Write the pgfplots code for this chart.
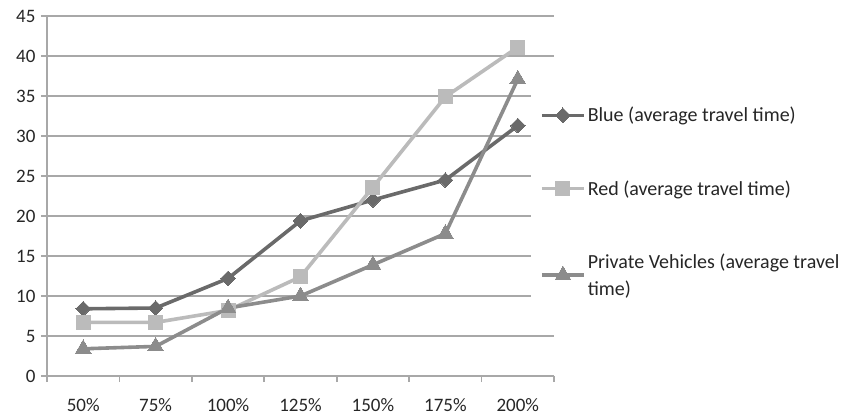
\documentclass[border=0pt]{standalone}
\usepackage{pgfplots}
\pgfplotsset{compat=1.18}
\usepackage{fontspec}
\setmainfont{Carlito}
\definecolor{cblue}{HTML}{6A6A6A}
\definecolor{cred}{HTML}{BBBBBB}
\definecolor{cpriv}{HTML}{8C8C8C}
\definecolor{cgrid}{HTML}{A8A8A8}
\definecolor{ctext}{HTML}{262626}
\begin{document}
\begin{tikzpicture}
\useasboundingbox (-47pt,-42pt) rectangle (800pt,376pt);
\begin{axis}[
  at={(0,0)}, anchor=south west,
  scale only axis, width=507pt, height=360pt,
  xmin=-0.5, xmax=6.5, ymin=0, ymax=45,
  xtick={0,...,6},
  xticklabels={50\%,75\%,100\%,125\%,150\%,175\%,200\%},
  minor xtick={-0.5,0.5,...,6.5},
  ytick={0,5,...,45},
  ymajorgrids,
  grid style={cgrid, line width=1.6pt},
  axis x line*=bottom, axis y line*=left,
  axis line style={cgrid, line width=1.6pt, -},
  tick align=outside,
  x tick style={draw=none},
  minor x tick style={draw=cgrid, line width=1.6pt},
  minor tick length=6pt,
  y tick style={cgrid, line width=1.6pt},
  major tick length=6pt,
  tick label style={font=\fontsize{19}{22}\selectfont, text=ctext},
  /pgf/number format/assume math mode=true,
  xticklabel style={yshift=-13pt},
  yticklabel style={xshift=-2pt},
  legend style={at={(axis description cs:0.9546,0.822)}, anchor=north west,
    draw=none, fill=white, inner xsep=9pt, inner ysep=25pt,
    font=\fontsize{20}{27}\selectfont, text=ctext,
    row sep=53pt,
    cells={align=left, anchor=west}},
  legend image code/.code={
    \draw[#1, mark repeat=2, mark phase=2] plot coordinates {(0pt,0pt) (21pt,0pt) (42pt,0pt)};},
  every axis plot/.append style={line width=3.6pt, line join=round},
]
\addplot[cblue, mark=square*, mark size=5.2pt, mark options={rotate=45, line width=0pt}]
  coordinates {(0,8.4) (1,8.5) (2,12.2) (3,19.4) (4,22.0) (5,24.5) (6,31.3)};
\addlegendentry{Blue (average travel time)}
\addplot[cred, mark=square*, mark size=7pt, mark options={line width=0pt}]
  coordinates {(0,6.7) (1,6.7) (2,8.2) (3,12.4) (4,23.6) (5,34.9) (6,41.1)};
\addlegendentry{Red (average travel time)}
\addplot[cpriv, mark=triangle*, mark size=9pt, mark options={line width=0pt}]
  coordinates {(0,3.4) (1,3.7) (2,8.5) (3,10.0) (4,13.9) (5,17.8) (6,37.1)};
\addlegendentry{Private Vehicles (average travel\\time)}
\end{axis}
\end{tikzpicture}
\end{document}
